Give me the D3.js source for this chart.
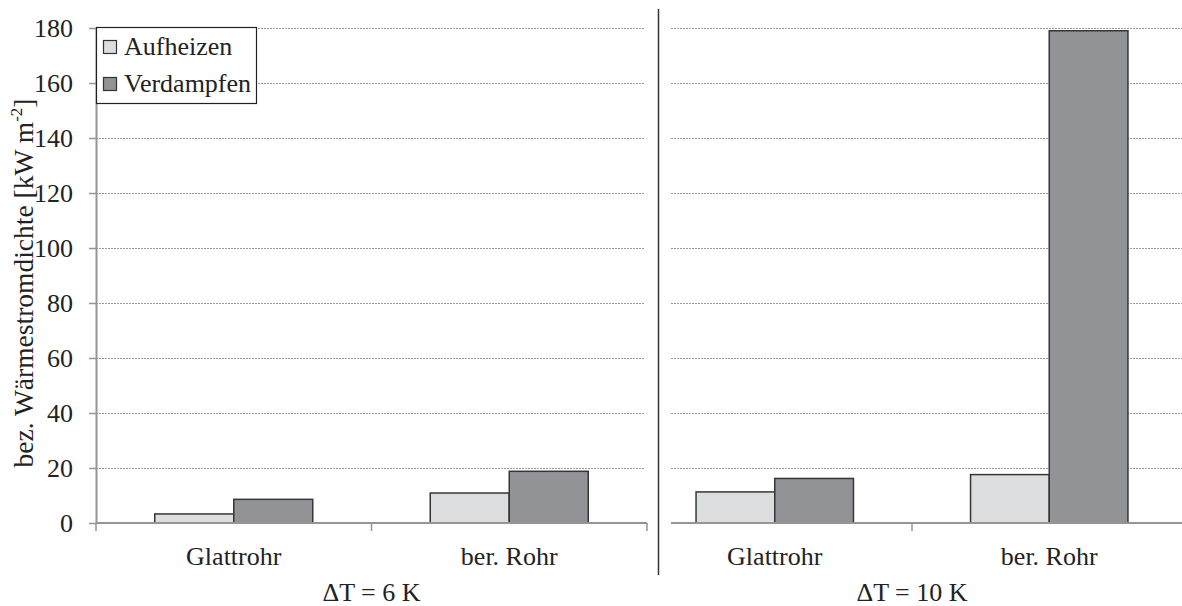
<!DOCTYPE html>
<html>
<head>
<meta charset="utf-8">
<script src="https://cdn.jsdelivr.net/npm/d3@7"></script>
</head>
<body style="margin:0; background:#fff">
<div id="plot"></div>
<script>
var categories = ["Glattrohr", "ber. Rohr"];
var series = ["Aufheizen", "Verdampfen"];
var panelLabels = ["\u0394T = 6 K", "\u0394T = 10 K"];
// values per panel, [Glattrohr, ber. Rohr]
var aufheizen6 = [3.3, 10.9];
var verdampfen6 = [8.6, 18.8];
var aufheizen10 = [11.3, 17.6];
var verdampfen10 = [16.2, 179];
var yTicks = [0, 20, 40, 60, 80, 100, 120, 140, 160, 180];
var colors = ["#dcdddf", "#929396"];

var svgWidth = 1182, svgHeight = 606;
var fontSize = "26px";
var serif = "'Liberation Serif', serif";
var textColor = "#222";

var svg = d3.select("#plot").append("svg")
  .attr("width", svgWidth)
  .attr("height", svgHeight);

var y = d3.scaleLinear().domain([0, 180]).range([523, 28]);

var panels = [
  { label: panelLabels[0], a: aufheizen6, v: verdampfen6, range: [96, 647], line: [96, 647], grid: [96, 645] },
  { label: panelLabels[1], a: aufheizen10, v: verdampfen10, range: [637.5, 1186.5], line: [671, 1182], grid: [671, 1182] }
];

var axisColor = "#959595";

// gridlines
panels.forEach(function(p) {
  svg.append("g").selectAll("line")
    .data(yTicks.filter(d => d > 0))
    .join("line")
    .attr("x1", p.grid[0]).attr("x2", p.grid[1])
    .attr("y1", d => Math.round(y(d)) + 0.5).attr("y2", d => Math.round(y(d)) + 0.5)
    .attr("stroke", "#9a9a9a")
    .attr("stroke-width", 1)
    .attr("stroke-dasharray", "2,1");
});

// bars
panels.forEach(function(p) {
  var x0 = d3.scaleBand().domain(categories).range(p.range)
    .paddingInner(0.4265).paddingOuter(0.2133);
  var x1 = d3.scaleBand().domain(series).range([0, x0.bandwidth()]);
  var rows = categories.map(function(c, i) {
    return { cat: c, vals: [{ s: series[0], v: p.a[i] }, { s: series[1], v: p.v[i] }] };
  });
  var g = svg.append("g");
  g.selectAll("g").data(rows).join("g")
    .attr("transform", d => `translate(${x0(d.cat)},0)`)
    .selectAll("rect").data(d => d.vals).join("rect")
    .attr("x", d => x1(d.s))
    .attr("y", d => y(d.v))
    .attr("width", x1.bandwidth())
    .attr("height", d => y(0) - y(d.v))
    .attr("fill", (d, i) => colors[i])
    .attr("stroke", "#363636")
    .attr("stroke-width", 1.5);

  // x axis line
  svg.append("line")
    .attr("x1", p.line[0]).attr("x2", p.line[1])
    .attr("y1", y(0)).attr("y2", y(0))
    .attr("stroke", axisColor).attr("stroke-width", 2);

  // tick marks between / around groups
  var step = x0.step();
  var tickX = [x0(categories[1]) - x0.paddingInner() * step / 2];
  if (p.range[0] >= p.line[0]) tickX.push(p.range[0]);
  if (p.range[1] <= p.line[1]) tickX.push(p.range[1]);
  svg.append("g").selectAll("line").data(tickX).join("line")
    .attr("x1", d => d).attr("x2", d => d)
    .attr("y1", y(0)).attr("y2", y(0) + 8)
    .attr("stroke", axisColor).attr("stroke-width", 1.5);

  // category labels
  svg.append("g").selectAll("text").data(categories).join("text")
    .attr("x", d => x0(d) + x0.bandwidth() / 2)
    .attr("y", 565)
    .attr("text-anchor", "middle")
    .attr("fill", textColor)
    .style("font-size", fontSize)
    .style("font-family", serif)
    .text(d => d);

  // panel label
  svg.append("text")
    .attr("x", tickX[0])
    .attr("y", 601)
    .attr("text-anchor", "middle")
    .attr("fill", textColor)
    .style("font-size", fontSize)
    .style("font-family", serif)
    .text(p.label);
});

// y axis
var yAxis = svg.append("g")
  .attr("transform", "translate(96,0)")
  .call(d3.axisLeft(y).tickValues(yTicks).tickSize(7).tickPadding(16).tickSizeOuter(0));
yAxis.attr("font-family", null).attr("font-size", null);
yAxis.select(".domain").attr("stroke", axisColor).attr("stroke-width", 2);
yAxis.selectAll(".tick line").attr("stroke", axisColor).attr("stroke-width", 1.5);
yAxis.selectAll(".tick text")
  .attr("fill", textColor)
  .style("font-size", fontSize)
  .style("font-family", serif);

// y axis title
var yTitle = svg.append("text")
  .attr("transform", "translate(33,283) rotate(-90)")
  .attr("text-anchor", "middle")
  .attr("fill", textColor)
  .style("font-size", "27.5px")
  .style("font-family", serif);
yTitle.append("tspan").text("bez. W\u00e4rmestromdichte [kW m");
yTitle.append("tspan").style("font-size", "17px").attr("dy", -11).text("-2");
yTitle.append("tspan").attr("dy", 11).text("]");

// divider between panels
svg.append("line")
  .attr("x1", 658.5).attr("x2", 658.5)
  .attr("y1", 9).attr("y2", 575)
  .attr("stroke", "#333").attr("stroke-width", 1.5);

// legend
var legend = svg.append("g").attr("transform", "translate(96,27)");
legend.append("rect")
  .attr("x", 0.5).attr("y", 0.5)
  .attr("width", 160).attr("height", 76)
  .attr("fill", "#fff").attr("stroke", "#222").attr("stroke-width", 1.2);
series.forEach(function(s, i) {
  legend.append("rect")
    .attr("x", 7.5).attr("y", 13.5 + i * 37)
    .attr("width", 13).attr("height", 13)
    .attr("fill", colors[i]).attr("stroke", "#333").attr("stroke-width", 1.2);
  legend.append("text")
    .attr("x", 28).attr("y", 28 + i * 37)
    .attr("fill", textColor)
    .style("font-size", fontSize)
    .style("font-family", serif)
    .text(s);
});
</script>
</body>
</html>
